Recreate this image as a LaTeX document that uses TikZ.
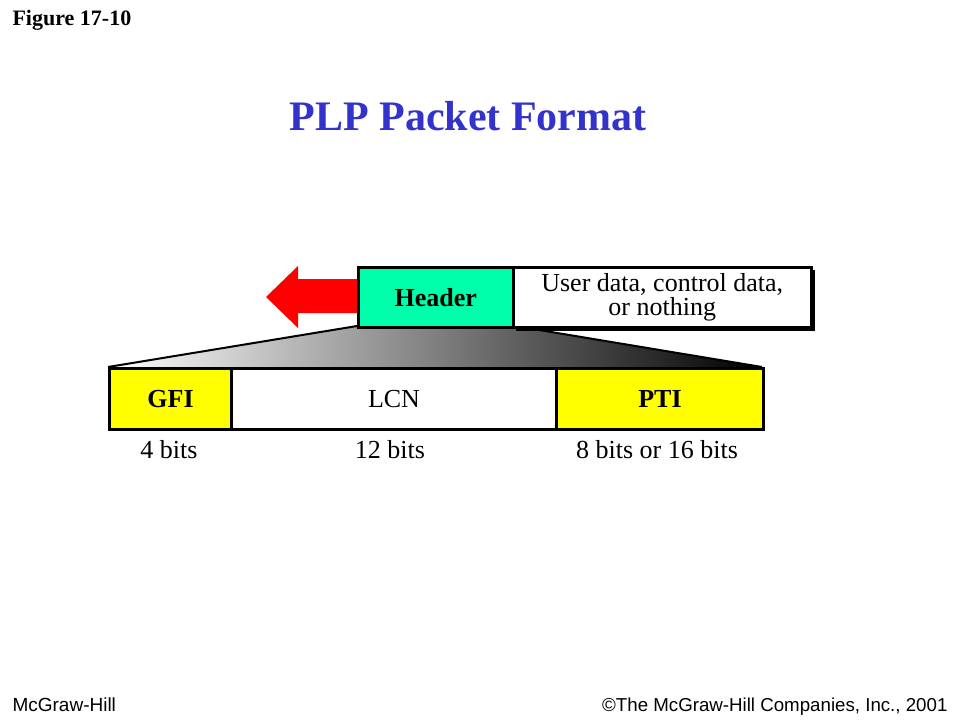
\documentclass[tikz,border=0pt]{standalone}
\usepackage{fontspec}
\setmainfont{Liberation Serif}
\newfontfamily\arialf{Liberation Sans}
\definecolor{titleblue}{RGB}{51,51,204}
\definecolor{hdrgreen}{RGB}{0,255,170}
\definecolor{fieldyellow}{RGB}{255,255,0}
\definecolor{arrowred}{RGB}{255,0,0}
\begin{document}
\begin{tikzpicture}[x=1pt,y=-1pt,
  boxline/.style={draw=black,line width=2.5pt},
  fieldtxt/.style={font=\fontsize{26}{24}\selectfont},
  bitlbl/.style={font=\fontsize{26}{24}\selectfont,anchor=center}]
\useasboundingbox (0,0) rectangle (960,720);
% texts
\node[anchor=west,font=\fontsize{22}{24}\selectfont\bfseries] (fig) at (9,20) {Figure 17-10};
\node[font=\fontsize{42}{44}\selectfont\bfseries,text=titleblue] (title) at (468,116) {PLP Packet Format};
\node[anchor=base west,font=\arialf\fontsize{19}{20}\selectfont] (mh) at (9,711) {McGraw-Hill};
\node[anchor=base east,font=\arialf\fontsize{18.7}{20}\selectfont] (copy) at (951,711) {©The McGraw-Hill Companies, Inc., 2001};
% trapezoid with gradient
\shade[left color=white,right color=black] (357,326) -- (515,326) -- (762,367) -- (108,367) -- cycle;
\draw[line width=2pt] (108,367) -- (357,326);
\draw[line width=2pt] (515,326) -- (762,367);
% red arrow
\fill[arrowred] (357,279) -- (298,279) -- (298,266) -- (266,297) -- (298,328) -- (298,313) -- (357,313) -- cycle;
% shadow of data box
\fill[black] (516,270) rectangle (815,331);
% header and data
\node[boxline,fill=hdrgreen,minimum width=155pt,minimum height=60pt,anchor=north west,inner sep=0pt,fieldtxt,font=\fontsize{26}{24}\selectfont\bfseries] (hdr) at (357,266) {Header};
\node[boxline,fill=white,minimum width=298pt,minimum height=60pt,anchor=north west,inner sep=0pt,align=center,fieldtxt] (data) at (512,266) {User data, control data,\\or nothing};
% fields
\node[boxline,line width=3pt,fill=fieldyellow,minimum width=122pt,minimum height=61pt,anchor=north west,inner sep=0pt,font=\fontsize{26}{24}\selectfont\bfseries] (gfi) at (108,367) {GFI};
\node[boxline,line width=3pt,fill=white,minimum width=325pt,minimum height=61pt,anchor=north west,inner sep=0pt,fieldtxt] (lcn) at (230,367) {LCN};
\node[boxline,line width=3pt,fill=fieldyellow,minimum width=207pt,minimum height=61pt,anchor=north west,inner sep=0pt,font=\fontsize{26}{24}\selectfont\bfseries] (pti) at (555,367) {PTI};
% bit labels
\node[bitlbl] (b1) at (169,450) {4 bits};
\node[bitlbl] (b2) at (390,450) {12 bits};
\node[bitlbl] (b3) at (657,450) {8 bits or 16 bits};
\end{tikzpicture}
\end{document}
